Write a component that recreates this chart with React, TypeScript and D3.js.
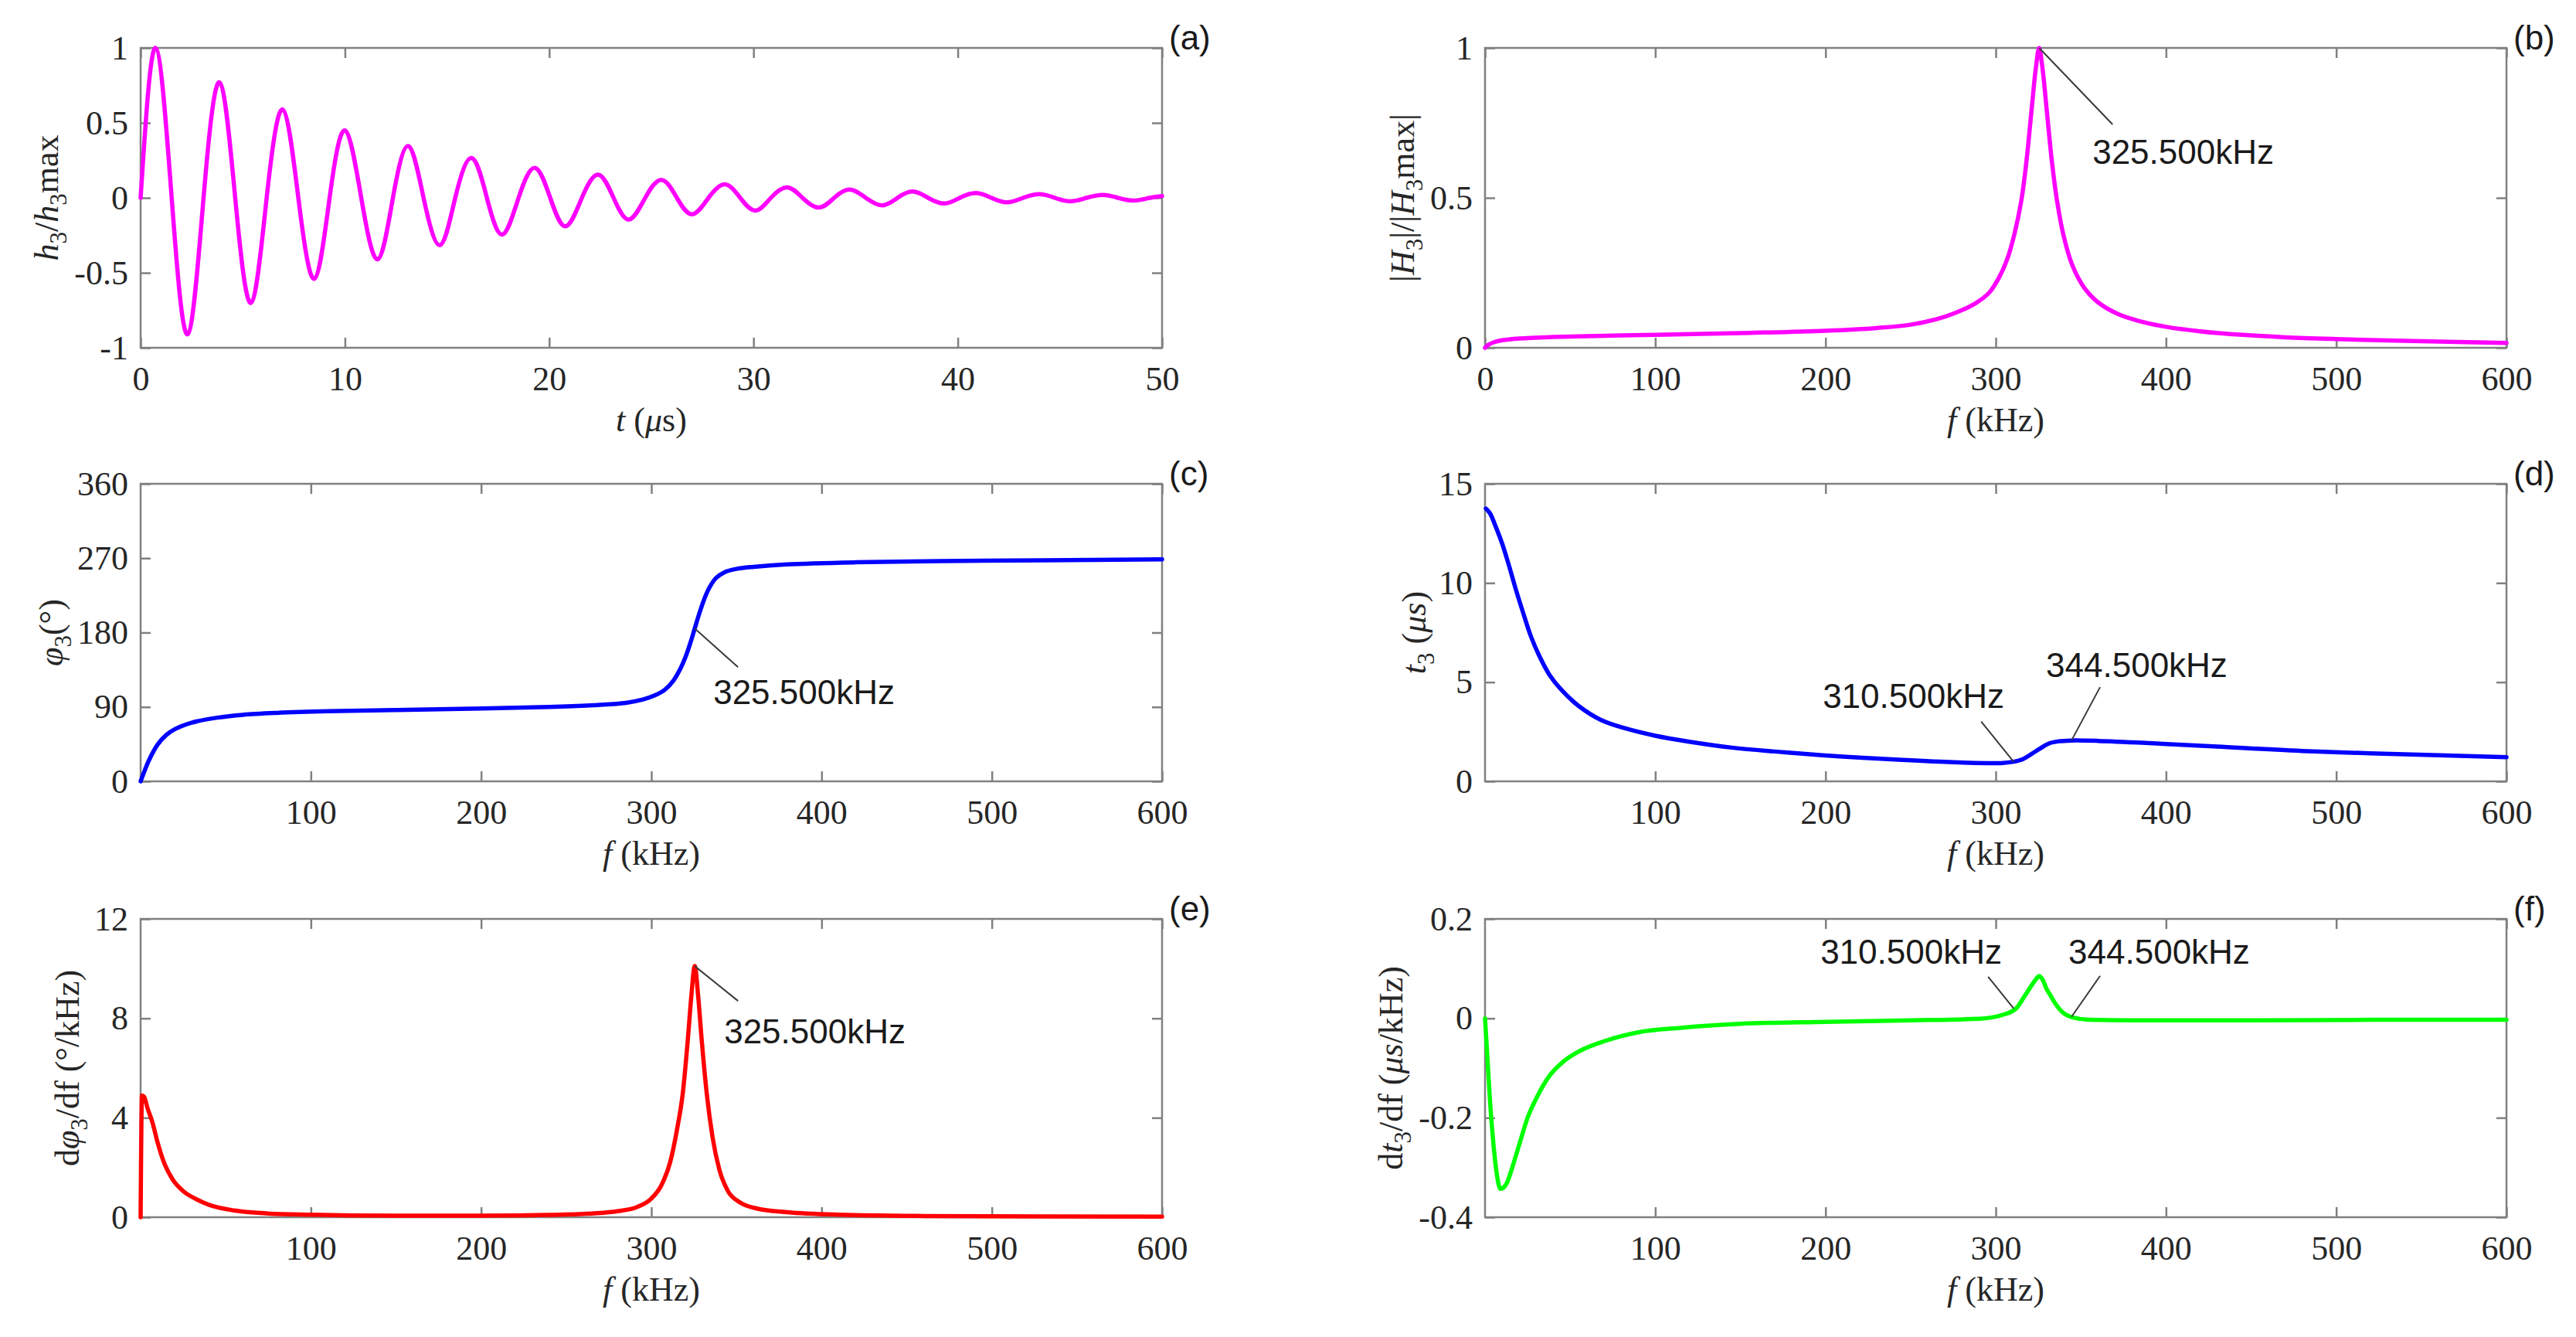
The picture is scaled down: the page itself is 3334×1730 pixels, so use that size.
import * as d3 from 'd3';
import { useEffect, useRef } from 'react';

// (a) impulse response h3/h3max vs t (us): start, then peak / zero / trough / zero per cycle
const tA = [0,
  0.73, 1.52, 2.3, 3.08, 3.86, 4.63, 5.4, 6.17, 6.95, 7.72, 8.5, 9.25,
  10.0, 10.8, 11.6, 12.35, 13.1, 13.85, 14.65, 15.4, 16.2, 16.95, 17.7, 18.5,
  19.3, 20.05, 20.8, 21.6, 22.4, 23.15, 23.9, 24.7, 25.5, 26.25, 27.0, 27.8,
  28.6, 29.35, 30.1, 30.85, 31.65, 32.4, 33.2, 33.95, 34.7, 35.5, 36.3, 37.05,
  37.8, 38.55, 39.35, 40.1, 40.9, 41.65, 42.4, 43.2, 44.0, 44.75, 45.5, 46.3,
  47.1, 47.85, 48.6, 49.4, 50];
const hA = [0,
  1, 0, -0.91, 0, 0.77, 0, -0.70, 0, 0.59, 0, -0.54, 0,
  0.45, 0, -0.41, 0, 0.345, 0, -0.315, 0, 0.265, 0, -0.245, 0,
  0.20, 0, -0.19, 0, 0.155, 0, -0.145, 0, 0.12, 0, -0.11, 0,
  0.09, 0, -0.085, 0, 0.07, 0, -0.065, 0, 0.055, 0, -0.05, 0,
  0.042, 0, -0.038, 0, 0.032, 0, -0.03, 0, 0.025, 0, -0.023, 0,
  0.019, 0, -0.018, 0, 0.012];

// (b) |H3|/|H3max| vs f (kHz)
const fB = [0, 2, 5, 10, 20, 40, 70, 100, 150, 200, 230, 250, 265, 277, 288, 296, 302, 307, 311, 315, 318, 321, 323.5,
  325.5, 327.5, 330, 333, 336, 340, 345, 352, 360, 372, 385, 400, 420, 445, 470, 500, 540, 600];
const magB = [0, 0.01, 0.018, 0.025, 0.031, 0.036, 0.04, 0.043, 0.049, 0.057, 0.066, 0.077, 0.095, 0.118, 0.148, 0.183, 0.235, 0.3, 0.38, 0.49, 0.62, 0.79, 0.93,
  1, 0.93, 0.79, 0.62, 0.49, 0.37, 0.275, 0.2, 0.152, 0.112, 0.088, 0.07, 0.055, 0.043, 0.035, 0.029, 0.023, 0.016];

// (c) phase (deg)
const fC = [0, 2, 5, 10, 15, 20, 30, 45, 60, 80, 110, 150, 200, 240, 270, 285, 295, 302, 308, 313, 317, 320, 323,
  325.5, 328, 331, 334, 338, 343, 350, 360, 380, 420, 470, 530, 600];
const phiC = [0, 11, 26, 44.5, 56, 63, 71, 77, 80.5, 82.8, 84.8, 86.3, 88.2, 90, 92.5, 95, 99, 104, 111, 122, 136, 150, 168,
  185, 202, 220, 234, 246, 253, 257, 259.5, 262.5, 265, 266.5, 267.5, 268.5];

// (d) group delay t3 (us)
const fD = [0.5, 3, 6, 10, 14, 18, 22, 27, 32, 38, 45, 55, 68, 82, 100, 120, 145, 175, 210, 245, 275, 295, 303,
  310.5, 316, 321, 326, 331, 337, 344.5, 360, 390, 430, 480, 540, 600];
const tD = [13.75, 13.5, 12.9, 12.0, 10.9, 9.7, 8.6, 7.3, 6.3, 5.35, 4.6, 3.8, 3.1, 2.68, 2.3, 2.0, 1.7, 1.47, 1.25, 1.08, 0.96, 0.92, 0.92,
  0.99, 1.12, 1.38, 1.65, 1.9, 2.02, 2.06, 2.04, 1.93, 1.75, 1.53, 1.36, 1.22];

// (e) d(phi3)/df (deg/kHz)
const fE = [0, 0.8, 2, 4, 7, 10, 14, 19, 25, 32, 40, 55, 75, 100, 150, 200, 240, 265, 280, 292, 300, 306, 311, 315, 318.5, 321.5, 323.5,
  325.5, 327.5, 329.5, 332.5, 336, 340, 345, 352, 362, 380, 410, 460, 530, 600];
const dphiE = [0, 4.9, 4.85, 4.4, 3.8, 3.0, 2.15, 1.5, 1.05, 0.75, 0.5, 0.27, 0.15, 0.1, 0.06, 0.06, 0.09, 0.15, 0.24, 0.42, 0.75, 1.3, 2.2, 3.5, 5.0, 7.2, 8.9,
  10.1, 8.9, 7.2, 5.0, 3.2, 1.9, 1.05, 0.6, 0.35, 0.2, 0.1, 0.05, 0.03, 0.02];

// (f) dt3/df (us/kHz)
const fF = [0, 1.5, 3, 5, 7, 9, 11, 13, 16, 20, 25, 31, 38, 46, 56, 70, 90, 115, 150, 200, 250, 290, 305, 312, 317, 321, 323.5,
  325.5, 327.5, 330, 332, 334, 339, 345, 355, 380, 450, 520, 600];
const dtF = [0, -0.085, -0.17, -0.255, -0.315, -0.343, -0.34, -0.33, -0.3, -0.255, -0.2, -0.155, -0.115, -0.087, -0.065, -0.046, -0.028, -0.019, -0.011, -0.007, -0.004, -0.001, 0.008, 0.02, 0.045, 0.066, 0.078,
  0.085, 0.078, 0.058, 0.047, 0.035, 0.013, 0.002, -0.003, -0.004, -0.004, -0.003, -0.003];

// tick labels
const tTicks = [0, 10, 20, 30, 40, 50];
const fTicks0 = [0, 100, 200, 300, 400, 500, 600];
const fTicks = [100, 200, 300, 400, 500, 600];
const hTicks = [-1, -0.5, 0, 0.5, 1];
const magTicks = [0, 0.5, 1];
const phiTicks = [0, 90, 180, 270, 360];
const tdTicks = [0, 5, 10, 15];
const dphiTicks = [0, 4, 8, 12];
const dtTicks = [-0.4, -0.2, 0, 0.2];

// data tips
const annB = [{ label: '325.500kHz', f: 325.5, v: 1 }];
const annC = [{ label: '325.500kHz', f: 325.5, v: 185 }];
const annD = [{ label: '310.500kHz', f: 310.5, v: 0.99 }, { label: '344.500kHz', f: 344.5, v: 2.06 }];
const annE = [{ label: '325.500kHz', f: 325.5, v: 10.1 }];
const annF = [{ label: '310.500kHz', f: 310.5, v: 0.02 }, { label: '344.500kHz', f: 344.5, v: 0.003 }];

type Seg = { t: string; it?: boolean; sub?: boolean };
type Ann = { label: string; f: number; v: number };

const colX = [182, 1922];
const rowY = [62, 626, 1189];
const rowH = [388, 385, 386];
const plotW = 1322;

// leader end / text origin offsets from data point, in px
const annLayout: Record<string, { lx: number; ly: number; tx: number; ty: number }[]> = {
  b: [{ lx: 95, ly: 99, tx: 69, ty: 150 }],
  c: [{ lx: 56, ly: 50, tx: 24, ty: 98 }],
  d: [{ lx: -42, ly: -52, tx: -247, ty: -70 }, { lx: 37, ly: -69, tx: -33, ty: -82 }],
  e: [{ lx: 56, ly: 45, tx: 38, ty: 100 }],
  f: [{ lx: -33, ly: -41, tx: -250, ty: -58 }, { lx: 37, ly: -53, tx: -4, ty: -69 }],
};

const fTitle: Seg[] = [{ t: 'f', it: true }, { t: ' (kHz)' }];
const smooth = d3.curveCatmullRom.alpha(0.5);

const panels = [
  { id: 'a', col: 0, row: 0, xs: tA, ys: hA, color: '#ff00ff', xDomain: [0, 50], yDomain: [-1, 1], xTicks: tTicks, yTicks: hTicks,
    curve: d3.curveNatural, anns: [] as Ann[], yOff: -122,
    xTitle: [{ t: 't', it: true }, { t: ' (' }, { t: 'μ', it: true }, { t: 's)' }] as Seg[],
    yTitle: [{ t: 'h', it: true }, { t: '3', sub: true }, { t: '/' }, { t: 'h', it: true }, { t: '3', sub: true }, { t: 'max' }] as Seg[] },
  { id: 'b', col: 1, row: 0, xs: fB, ys: magB, color: '#ff00ff', xDomain: [0, 600], yDomain: [0, 1], xTicks: fTicks0, yTicks: magTicks,
    curve: smooth, anns: annB, yOff: -107, xTitle: fTitle,
    yTitle: [{ t: '|' }, { t: 'H', it: true }, { t: '3', sub: true }, { t: '|/|' }, { t: 'H', it: true }, { t: '3', sub: true }, { t: 'max|' }] as Seg[] },
  { id: 'c', col: 0, row: 1, xs: fC, ys: phiC, color: '#0000ff', xDomain: [0, 600], yDomain: [0, 360], xTicks: fTicks, yTicks: phiTicks,
    curve: smooth, anns: annC, yOff: -116, xTitle: fTitle,
    yTitle: [{ t: 'φ', it: true }, { t: '3', sub: true }, { t: '(°)' }] as Seg[] },
  { id: 'd', col: 1, row: 1, xs: fD, ys: tD, color: '#0000ff', xDomain: [0, 600], yDomain: [0, 15], xTicks: fTicks, yTicks: tdTicks,
    curve: smooth, anns: annD, yOff: -92, xTitle: fTitle,
    yTitle: [{ t: 't', it: true }, { t: '3', sub: true }, { t: '  (' }, { t: 'μs', it: true }, { t: ')' }] as Seg[] },
  { id: 'e', col: 0, row: 2, xs: fE, ys: dphiE, color: '#ff0000', xDomain: [0, 600], yDomain: [0, 12], xTicks: fTicks, yTicks: dphiTicks,
    curve: d3.curveMonotoneX, anns: annE, yOff: -95, xTitle: fTitle,
    yTitle: [{ t: 'd' }, { t: 'φ', it: true }, { t: '3', sub: true }, { t: '/df (°/kHz)' }] as Seg[] },
  { id: 'f', col: 1, row: 2, xs: fF, ys: dtF, color: '#00ff00', xDomain: [0, 600], yDomain: [-0.4, 0.2], xTicks: fTicks, yTicks: dtTicks,
    curve: d3.curveMonotoneX, anns: annF, yOff: -122, xTitle: fTitle,
    yTitle: [{ t: 'd' }, { t: 't', it: true }, { t: '3', sub: true }, { t: '/df (' }, { t: 'μs', it: true }, { t: '/kHz)' }] as Seg[] },
];

const SERIF = '"Liberation Serif", "Times New Roman", serif';
const SANS = '"Liberation Sans", Arial, sans-serif';

function addSegs(text: d3.Selection<SVGTextElement, unknown, null, undefined>, segs: Seg[]) {
  let shift = 0;
  segs.forEach((s) => {
    const ts = text.append('tspan').text(s.t);
    if (s.it) ts.attr('font-style', 'italic');
    const want = s.sub ? 11 : 0;
    if (want !== shift) {
      ts.attr('dy', want - shift);
      shift = want;
    }
    if (s.sub) ts.attr('font-size', 31);
  });
}

export default function App() {
  const ref = useRef<SVGSVGElement | null>(null);
  useEffect(() => {
    if (!ref.current) return;
    const svg = d3.select(ref.current);
    svg.selectAll('*').remove();
    svg.append('rect').attr('width', 3334).attr('height', 1730).attr('fill', '#fff');
    const fmt = (d: d3.NumberValue) => String(d);

    panels.forEach((p) => {
      const w = plotW;
      const h = rowH[p.row];
      const g = svg.append('g').attr('transform', `translate(${colX[p.col]},${rowY[p.row]})`);
      const x = d3.scaleLinear().domain(p.xDomain).range([0, w]);
      const y = d3.scaleLinear().domain(p.yDomain).range([h, 0]);

      const styleAxis = (ax: d3.Selection<SVGGElement, unknown, null, undefined>) => {
        ax.select('.domain').remove();
        ax.attr('color', '#808080');
        ax.selectAll('line').attr('stroke-width', 2.5);
        ax.selectAll('text').attr('fill', '#262626').attr('font-size', 44).attr('font-family', SERIF);
      };

      g.append('g').attr('transform', `translate(0,${h})`)
        .call(d3.axisBottom(x).tickValues(p.xTicks).tickSizeInner(-13).tickSizeOuter(0).tickPadding(24).tickFormat(fmt))
        .call(styleAxis);
      g.append('g')
        .call(d3.axisTop(x).tickValues(p.xTicks).tickSizeInner(-13).tickSizeOuter(0).tickFormat(() => ''))
        .call(styleAxis);
      g.append('g')
        .call(d3.axisLeft(y).tickValues(p.yTicks).tickSizeInner(-13).tickSizeOuter(0).tickPadding(16).tickFormat(fmt))
        .call(styleAxis);
      g.append('g').attr('transform', `translate(${w},0)`)
        .call(d3.axisRight(y).tickValues(p.yTicks).tickSizeInner(-13).tickSizeOuter(0).tickFormat(() => ''))
        .call(styleAxis);

      g.append('rect').attr('width', w).attr('height', h)
        .attr('fill', 'none').attr('stroke', '#808080').attr('stroke-width', 2.5);

      const clipId = `clip-${p.id}`;
      g.append('clipPath').attr('id', clipId).append('rect')
        .attr('x', -3).attr('y', -3).attr('width', w + 6).attr('height', h + 6);

      const line = d3.line<number>()
        .x((_, i) => x(p.xs[i]))
        .y((d) => y(d))
        .curve(p.curve);
      g.append('path').attr('clip-path', `url(#${clipId})`)
        .attr('d', line(p.ys))
        .attr('fill', 'none').attr('stroke', p.color).attr('stroke-width', 5.5)
        .attr('stroke-linejoin', 'round').attr('stroke-linecap', 'round');

      // data tips
      p.anns.forEach((a, i) => {
        const L = annLayout[p.id][i];
        const px = x(a.f);
        const py = y(a.v);
        g.append('line').attr('x1', px).attr('y1', py).attr('x2', px + L.lx).attr('y2', py + L.ly)
          .attr('stroke', '#3a3a3a').attr('stroke-width', 2);
        g.append('text').attr('x', px + L.tx).attr('y', py + L.ty)
          .attr('font-family', SANS).attr('font-size', 44).attr('fill', '#1a1a1a')
          .text(a.label);
      });

      // panel tag
      g.append('text').attr('x', w + 9).attr('y', 2)
        .attr('font-family', SANS).attr('font-size', 44).attr('fill', '#1a1a1a')
        .text(`(${p.id})`);

      // axis titles
      const xt = g.append('text').attr('x', w / 2).attr('y', h + 108)
        .attr('text-anchor', 'middle').attr('font-family', SERIF).attr('font-size', 44).attr('fill', '#262626');
      addSegs(xt, p.xTitle);
      const yt = g.append('text').attr('transform', `translate(${p.yOff},${h / 2}) rotate(-90)`)
        .attr('dy', '0.35em')
        .attr('text-anchor', 'middle').attr('font-family', SERIF).attr('font-size', 44).attr('fill', '#262626');
      addSegs(yt, p.yTitle);
    });
  }, []);

  return (
    <svg ref={ref} width={3334} height={1730}
      style={{ position: 'absolute', left: 0, top: 0, display: 'block', background: '#fff' }} />
  );
}
